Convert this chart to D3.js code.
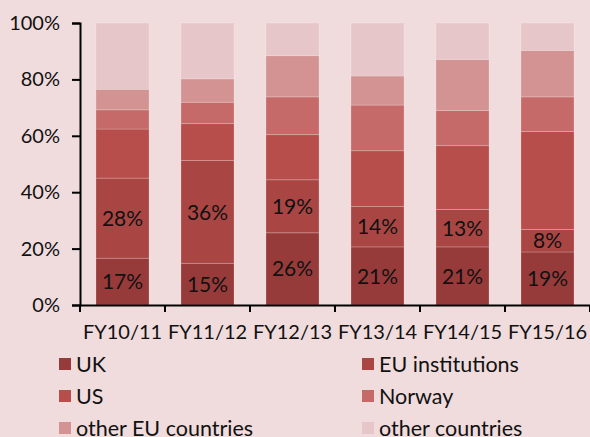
<!DOCTYPE html>
<html>
<head>
<meta charset="utf-8">
<script src="https://cdn.jsdelivr.net/npm/d3@7"></script>
<style>
  body { margin: 0; background: #f0dcdc; }
  svg { display: block; font-family: "Lato", "Liberation Sans", sans-serif; }
</style>
</head>
<body>
<svg id="chart" width="590" height="437"></svg>
<script>
const years = ["FY10/11", "FY11/12", "FY12/13", "FY13/14", "FY14/15", "FY15/16"];
const seriesNames = ["UK", "EU institutions", "US", "Norway", "other EU countries", "other countries"];

// shares in % per year
const uk       = [16.6, 14.8, 25.6, 20.6, 20.6, 18.8];
const euInst   = [28.4, 36.4, 18.8, 14.3, 13.3,  8.0];
const us       = [17.4, 13.1, 16.0, 19.8, 22.6, 34.7];
const norway   = [ 6.8,  7.6, 13.4, 16.2, 12.5, 12.3];
const otherEU  = [ 7.3,  8.3, 14.6, 10.3, 18.1, 16.5];
const others   = [23.5, 19.8, 11.6, 18.8, 12.9,  9.7];

const yTicks = [0, 20, 40, 60, 80, 100];
const colours = ["#973b3a", "#a94644", "#b84e4b", "#c56a69", "#d49393", "#e6c6c8"];

const cols = [uk, euInst, us, norway, otherEU, others];
const rows = years.map((y, i) => {
  let r = { year: y };
  seriesNames.forEach((s, j) => { r[s] = cols[j][i]; });
  return r;
});

const svg = d3.select("#chart");

const x = d3.scaleBand()
  .domain(years)
  .range([80, 590])
  .paddingInner(0.376)
  .paddingOuter(0.188);

const y = d3.scaleLinear().domain([0, 100]).range([305, 23]);

const layers = d3.stack().keys(seriesNames)(rows);

// bars
svg.append("g").selectAll("g")
  .data(layers)
  .enter().append("g")
    .attr("fill", (d, i) => colours[i])
  .selectAll("rect")
  .data(d => d)
  .enter().append("rect")
    .attr("x", d => x(d.data.year))
    .attr("width", x.bandwidth())
    .attr("y", d => y(d[1]))
    .attr("height", d => y(d[0]) - y(d[1]))
    .attr("stroke", "rgba(255,255,255,0.25)")
    .attr("stroke-width", 0.8);

// labels for UK and EU institutions
layers.slice(0, 2).forEach(layer => {
  svg.append("g").selectAll("text")
    .data(layer)
    .enter().append("text")
      .attr("x", d => x(d.data.year) + x.bandwidth() / 2)
      .attr("y", d => (y(d[0]) + y(d[1])) / 2)
      .attr("dy", "0.36em")
      .attr("text-anchor", "middle")
      .attr("font-size", 21)
      .attr("fill", "#111")
      .text(d => Math.round(d.data[layer.key]) + "%");
});

// y axis
const yAxis = d3.axisLeft(y)
  .tickValues(yTicks)
  .tickFormat(d => d + "%")
  .tickSize(8)
  .tickPadding(12);

svg.append("g")
  .attr("transform", "translate(80,0)")
  .call(yAxis)
  .call(g => g.selectAll("text").attr("font-size", 20).attr("fill", "#111").style("font-family", "Lato, sans-serif"))
  .call(g => g.selectAll("line, path").attr("stroke", "#000").attr("stroke-width", 2));

// x axis
const xAxis = d3.axisBottom(x).tickSize(0).tickPadding(20);
const xg = svg.append("g")
  .attr("transform", "translate(0,305)")
  .call(xAxis);
xg.select(".domain").attr("stroke", "#000").attr("stroke-width", 2);
xg.selectAll("text").attr("font-size", 20).attr("fill", "#111").style("font-family", "Lato, sans-serif");
// boundary ticks between bars
xg.selectAll(".sep")
  .data(d3.range(years.length + 1))
  .enter().append("line")
    .attr("x1", i => 80 + i * x.step())
    .attr("x2", i => 80 + i * x.step())
    .attr("y1", 0)
    .attr("y2", 7)
    .attr("stroke", "#000")
    .attr("stroke-width", 2);

// legend
const legend = svg.append("g");
seriesNames.forEach((name, i) => {
  const lx = i % 2 === 0 ? 59 : 362;
  const ly = 364 + Math.floor(i / 2) * 32;
  legend.append("rect")
    .attr("x", lx).attr("y", ly - 6)
    .attr("width", 12).attr("height", 12)
    .attr("fill", colours[i]);
  legend.append("text")
    .attr("x", lx + 17).attr("y", ly)
    .attr("dy", "0.36em")
    .attr("font-size", 21.5)
    .attr("fill", "#111")
    .text(name);
});
</script>
</body>
</html>
